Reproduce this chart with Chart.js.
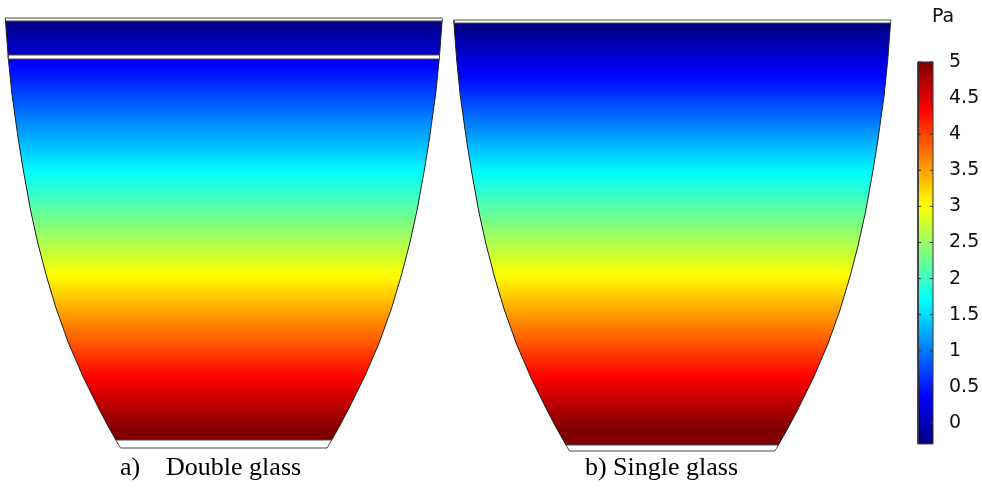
<!DOCTYPE html>
<html lang="es">
<head>
<meta charset="UTF-8">
<title>Presión en vasos</title>
<script src="https://cdn.jsdelivr.net/npm/chart.js@4.4.0/dist/chart.umd.min.js"></script>
<style>
  body { margin: 0; background: #fff; }
  canvas { display: block; }
</style>
</head>
<body>
<canvas id="myChart" width="982" height="488"></canvas>
<script>
/* Perfil del vaso: profundidad desde el borde y medio ancho (unidades de los ejes) */
const profundidadPerfil = [0, 3.9, 7.5, 12.0, 15.0, 19.2, 22.5, 25.8, 29.0, 32.4, 35.9, 39.1, 40.8, 42.4, 43.1];
const medioAnchoPerfil = [21.85, 21.56, 21.2, 20.57, 20.09, 19.33, 18.6, 17.74, 16.78, 15.57, 14.06, 12.48, 11.58, 10.68, 10.27];

/* Centro y altura del borde de cada vaso */
const centrosVasos = [22.38, 67.22];
const bordesVasos = [1.8, 2.0];

/* Capas de vidrio (blancas): [vaso, desde, hasta] */
const capasVidrio = [[0, 0, 0.3], [0, 3.7, 4.1], [0, 42.2, 43.0], [1, 0, 0.3], [1, 42.5, 43.1]];
/* Zonas con presion: [vaso, desde, hasta] */
const zonasAire = [[0, 0.3, 3.7], [0, 4.1, 42.2], [1, 0.3, 42.5]];

/* Presion en cada vaso (profundidad -> Pa) */
const profPresionDoble = [0.3, 3.7, 4.1, 4.7, 15.4, 25.7, 36.0, 41.2, 42.2];
const presionDoble = [-0.27, 0.15, 0.30, 0.37, 1.69, 3.02, 4.34, 5.0, 5.0];
const profPresionSimple = [0.3, 5.5, 15.3, 25.5, 35.7, 40.8, 42.5];
const presionSimple = [-0.29, 0.37, 1.69, 3.02, 4.34, 5.0, 5.0];

/* Barra de colores */
const rangoPresion = [-0.29, 5.0];
const ticksPresion = [0, 0.5, 1, 1.5, 2, 2.5, 3, 3.5, 4, 4.5, 5];
const xBarra = [91.8, 93.3];
const unidad = 'Pa';

/* Textos bajo cada vaso */
const titulos = ['a)    Double glass', 'b) Single glass'];
const xTitulos = [21.05, 66.15];

function interpolar(xs, ys, x) {
  if (x <= xs[0]) return ys[0];
  for (let i = 1; i < xs.length; i++) {
    if (x <= xs[i]) {
      const f = (x - xs[i - 1]) / (xs[i] - xs[i - 1]);
      return ys[i - 1] + f * (ys[i] - ys[i - 1]);
    }
  }
  return ys[ys.length - 1];
}

/* mapa de color tipo "jet" */
function colorJet(p) {
  let t = (p - rangoPresion[0]) / (rangoPresion[1] - rangoPresion[0]);
  t = Math.min(1, Math.max(0, t));
  const c = v => Math.round(255 * Math.min(1, Math.max(0, v)));
  const r = c(1.5 - Math.abs(4 * t - 3));
  const g = c(1.5 - Math.abs(4 * t - 2));
  const b = c(1.5 - Math.abs(4 * t - 1));
  return `rgb(${r},${g},${b})`;
}

/* poligono cerrado de un tramo del vaso, siguiendo el perfil */
function contorno(vaso, desde, hasta) {
  const cx = centrosVasos[vaso];
  const y0 = bordesVasos[vaso];
  const prof = [desde];
  profundidadPerfil.forEach(d => { if (d > desde && d < hasta) prof.push(d); });
  prof.push(hasta);
  const izq = prof.map(d => ({ x: cx - interpolar(profundidadPerfil, medioAnchoPerfil, d), y: y0 + d }));
  const der = prof.slice().reverse().map(d => ({ x: cx + interpolar(profundidadPerfil, medioAnchoPerfil, d), y: y0 + d }));
  const puntos = izq.concat(der);
  puntos.push(puntos[0]);
  return puntos;
}

function degradadoZona(vaso, desde, hasta) {
  const profs = vaso === 0 ? profPresionDoble : profPresionSimple;
  const pres = vaso === 0 ? presionDoble : presionSimple;
  return function(context) {
    const chart = context.chart;
    if (!chart.chartArea) return 'rgba(0,0,0,0)';
    const y = chart.scales.y;
    const arriba = y.getPixelForValue(bordesVasos[vaso] + desde);
    const abajo = y.getPixelForValue(bordesVasos[vaso] + hasta);
    const grad = chart.ctx.createLinearGradient(0, arriba, 0, abajo);
    const pasos = 80;
    for (let k = 0; k <= pasos; k++) {
      const d = desde + (hasta - desde) * k / pasos;
      grad.addColorStop(k / pasos, colorJet(interpolar(profs, pres, d)));
    }
    return grad;
  };
}

function degradadoBarra(context) {
  const chart = context.chart;
  if (!chart.chartArea) return 'rgba(0,0,0,0)';
  const y2 = chart.scales.y2;
  const abajo = y2.getPixelForValue(rangoPresion[0]);
  const arriba = y2.getPixelForValue(rangoPresion[1]);
  const grad = chart.ctx.createLinearGradient(0, abajo, 0, arriba);
  const pasos = 40;
  for (let k = 0; k <= pasos; k++) {
    const p = rangoPresion[0] + (rangoPresion[1] - rangoPresion[0]) * k / pasos;
    grad.addColorStop(k / pasos, colorJet(p));
  }
  return grad;
}

const datasets = [];

zonasAire.forEach(([vaso, desde, hasta]) => {
  datasets.push({
    data: contorno(vaso, desde, hasta),
    showLine: true,
    fill: 'shape',
    backgroundColor: degradadoZona(vaso, desde, hasta),
    borderColor: '#1e1e1e',
    borderWidth: 1,
    pointRadius: 0,
    order: 3
  });
});

capasVidrio.forEach(([vaso, desde, hasta]) => {
  datasets.push({
    data: contorno(vaso, desde, hasta),
    showLine: true,
    fill: 'shape',
    backgroundColor: '#ffffff',
    borderColor: '#4a4a4a',
    borderWidth: 1,
    pointRadius: 0,
    order: 2
  });
});

/* barra de colores */
datasets.push({
  data: [
    { x: xBarra[0], y: rangoPresion[0] },
    { x: xBarra[1], y: rangoPresion[0] },
    { x: xBarra[1], y: rangoPresion[1] },
    { x: xBarra[0], y: rangoPresion[1] },
    { x: xBarra[0], y: rangoPresion[0] }
  ],
  yAxisID: 'y2',
  showLine: true,
  fill: 'shape',
  backgroundColor: degradadoBarra,
  borderColor: '#333333',
  borderWidth: 1,
  pointRadius: 0,
  order: 2
});

/* marcas de la barra, por dentro a ambos lados */
datasets.push({
  data: ticksPresion.flatMap(v => [{ x: xBarra[0] + 0.15, y: v }, { x: xBarra[1] - 0.15, y: v }]),
  yAxisID: 'y2',
  showLine: false,
  pointStyle: 'line',
  pointRadius: 1.5,
  pointBorderColor: '#333333',
  pointBorderWidth: 1,
  order: 1
});

const etiquetaUnidad = {
  id: 'etiquetaUnidad',
  afterDraw(chart) {
    const ctx = chart.ctx;
    const y2 = chart.scales.y2;
    ctx.save();
    ctx.font = '19px "DejaVu Sans"';
    ctx.fillStyle = '#111111';
    ctx.textBaseline = 'middle';
    ctx.fillText(unidad, y2.left - 2, 17);
    ctx.restore();
  }
};

new Chart(document.getElementById('myChart'), {
  type: 'scatter',
  data: { datasets: datasets },
  options: {
    responsive: false,
    animation: false,
    events: [],
    layout: { padding: 0, autoPadding: false },
    plugins: { legend: { display: false }, tooltip: { enabled: false } },
    scales: {
      x: {
        type: 'linear',
        min: 0,
        max: 93.4,
        grid: { display: false },
        border: { display: false },
        ticks: {
          autoSkip: false,
          maxRotation: 0,
          padding: -9,
          color: '#000000',
          font: { family: 'Liberation Serif', size: 26 },
          callback: (v, i) => titulos[i]
        },
        afterBuildTicks: s => { s.ticks = xTitulos.map(v => ({ value: v })); },
        afterFit: s => { s.height = 34; s.paddingLeft = 0; s.paddingRight = 0; }
      },
      y: { type: 'linear', reverse: true, min: 0, max: 45.4, display: false },
      y2: {
        type: 'linear',
        position: 'right',
        min: -0.4294,
        max: 5.8587,
        grid: { display: false },
        border: { display: false },
        ticks: {
          padding: 7,
          color: '#111111',
          font: { family: 'DejaVu Sans', size: 19 },
          callback: v => String(v)
        },
        afterBuildTicks: s => { s.ticks = ticksPresion.map(v => ({ value: v })); },
        afterFit: s => { s.width = 48; s.paddingTop = 0; s.paddingBottom = 0; }
      }
    }
  },
  plugins: [etiquetaUnidad]
});
</script>
</body>
</html>
